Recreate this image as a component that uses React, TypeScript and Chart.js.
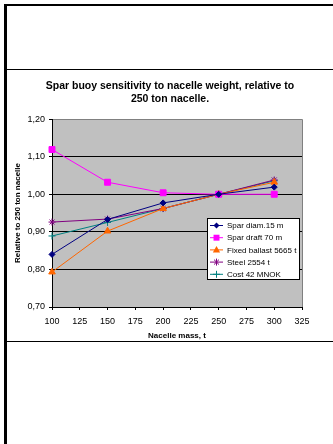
import React, { useEffect, useRef } from 'react';
import { Chart, registerables } from 'chart.js';

Chart.register(...registerables);

const nacelleMass = [100, 150, 200, 250, 300];
const sparDiam = [0.84, 0.933, 0.977, 1.0, 1.019];
const sparDraft = [1.119, 1.032, 1.004, 1.0, 1.0];
const fixedBallast = [0.793, 0.902, 0.962, 1.0, 1.032];
const steel = [0.926, 0.934, 0.962, 1.0, 1.038];
const cost = [0.889, 0.925, 0.962, 1.0, 1.036];

const seriesNames = ['Spar diam.15 m', 'Spar draft 70 m', 'Fixed ballast 5665 t', 'Steel 2554 t', 'Cost 42 MNOK'];
const seriesValues = [sparDiam, sparDraft, fixedBallast, steel, cost];
const seriesColors = ['#000080', '#ff00ff', '#ff6600', '#800080', '#008080'];
const seriesMarkers = ['rectRot', 'rect', 'triangle', 'star', 'cross'];
const markerRadius = [3, 4.2, 3.8, 3.5, 3.5];

const titleLines = ['Spar buoy sensitivity to nacelle weight, relative to', '250 ton nacelle.'];
const xTitle = 'Nacelle mass, t';
const yTitle = 'Relative to 250 ton nacelle';

const FONT = "'Liberation Sans', Arial, sans-serif";

function drawMarker(ctx: CanvasRenderingContext2D, kind: string, x: number, y: number, r: number, color: string) {
  ctx.save();
  ctx.fillStyle = color;
  ctx.strokeStyle = color;
  ctx.lineWidth = 1;
  ctx.beginPath();
  if (kind === 'rectRot') {
    ctx.moveTo(x, y - r);
    ctx.lineTo(x + r, y);
    ctx.lineTo(x, y + r);
    ctx.lineTo(x - r, y);
    ctx.closePath();
    ctx.fill();
  } else if (kind === 'rect') {
    const s = r * Math.SQRT1_2;
    ctx.rect(x - s, y - s, 2 * s, 2 * s);
    ctx.fill();
  } else if (kind === 'triangle') {
    ctx.moveTo(x, y - r);
    ctx.lineTo(x + r * 0.95, y + r * 0.7);
    ctx.lineTo(x - r * 0.95, y + r * 0.7);
    ctx.closePath();
    ctx.fill();
  } else if (kind === 'star') {
    const d = r * Math.SQRT1_2;
    ctx.moveTo(x - d, y - d);
    ctx.lineTo(x + d, y + d);
    ctx.moveTo(x + d, y - d);
    ctx.lineTo(x - d, y + d);
    ctx.moveTo(x, y - r);
    ctx.lineTo(x, y + r);
    ctx.stroke();
  } else {
    ctx.moveTo(x - r, y);
    ctx.lineTo(x + r, y);
    ctx.moveTo(x, y - r);
    ctx.lineTo(x, y + r);
    ctx.stroke();
  }
  ctx.restore();
}

const plotBgPlugin = {
  id: 'plotBg',
  beforeDraw(chart: any) {
    const { ctx, chartArea: ca } = chart;
    ctx.save();
    ctx.fillStyle = '#c0c0c0';
    ctx.fillRect(ca.left, ca.top, ca.right - ca.left, ca.bottom - ca.top);
    ctx.strokeStyle = '#808080';
    ctx.lineWidth = 1;
    ctx.beginPath();
    ctx.moveTo(ca.left, Math.round(ca.top) + 0.5);
    ctx.lineTo(Math.round(ca.right) + 0.5, Math.round(ca.top) + 0.5);
    ctx.lineTo(Math.round(ca.right) + 0.5, ca.bottom);
    ctx.stroke();
    ctx.restore();
  },
};

const legendPlugin = {
  id: 'boxLegend',
  afterDraw(chart: any) {
    const { ctx, chartArea: ca } = chart;
    const bx = Math.round(ca.left + 155);
    const by = Math.round(ca.top + 99);
    const bw = 92;
    const bh = 61;
    ctx.save();
    ctx.fillStyle = '#ffffff';
    ctx.fillRect(bx, by, bw, bh);
    ctx.strokeStyle = '#000000';
    ctx.lineWidth = 1;
    ctx.strokeRect(bx + 0.5, by + 0.5, bw, bh);
    ctx.font = `8px ${FONT}`;
    ctx.textBaseline = 'middle';
    ctx.textAlign = 'left';
    seriesNames.forEach((name, i) => {
      const y = by + 7.5 + i * 12.2;
      ctx.strokeStyle = seriesColors[i];
      ctx.lineWidth = 1;
      ctx.beginPath();
      ctx.moveTo(bx + 3, y);
      ctx.lineTo(bx + 16, y);
      ctx.stroke();
      drawMarker(ctx, seriesMarkers[i], bx + 9.5, y, markerRadius[i], seriesColors[i]);
      ctx.fillStyle = '#000000';
      ctx.fillText(name, bx + 20, y + 0.5);
    });
    ctx.restore();
  },
};

export default function App() {
  const canvasRef = useRef<HTMLCanvasElement | null>(null);

  useEffect(() => {
    const canvas = canvasRef.current;
    if (!canvas) return;
    Chart.defaults.color = '#000000';
    Chart.defaults.font.family = FONT;
    const chart = new Chart(canvas, {
      type: 'line',
      data: {
        datasets: seriesNames.map((name, i) => ({
          label: name,
          data: nacelleMass.map((m, j) => ({ x: m, y: seriesValues[i][j] })),
          borderColor: seriesColors[i],
          backgroundColor: seriesColors[i],
          pointBackgroundColor: seriesColors[i],
          pointBorderColor: seriesColors[i],
          pointStyle: seriesMarkers[i] as any,
          pointRadius: markerRadius[i],
          pointBorderWidth: 1,
          borderWidth: 1,
          tension: 0,
          fill: false,
          clip: false,
          yAxisID: 'y',
        })),
      },
      options: {
        animation: false,
        responsive: false,
        maintainAspectRatio: false,
        events: [],
        layout: { padding: { left: 0, right: 0, top: 0, bottom: 0 } },
        plugins: {
          legend: { display: false },
          tooltip: { enabled: false },
          title: {
            display: true,
            text: titleLines,
            color: '#000000',
            font: { family: FONT, size: 10.5, weight: 'bold', lineHeight: 1.3 },
            padding: { top: 9, bottom: 12.8 },
          },
        },
        scales: {
          x: {
            type: 'linear',
            min: 100,
            max: 325,
            ticks: { stepSize: 25, color: '#000000', font: { family: FONT, size: 9 }, padding: 6, maxRotation: 0, autoSkip: false },
            grid: { drawOnChartArea: false, drawTicks: true, tickLength: 3, tickColor: '#000000', color: '#000000' },
            border: { display: true, color: '#000000', width: 1 },
            title: {
              display: true,
              text: xTitle,
              color: '#000000',
              font: { family: FONT, size: 8, weight: 'bold', lineHeight: 1.2 },
              padding: { top: 2, bottom: 0 },
            },
            afterFit: (scale: any) => {
              scale.height = 34;
            },
          },
          y: {
            type: 'linear',
            position: 'left',
            min: 0.7,
            max: 1.2,
            ticks: {
              stepSize: 0.1,
              color: '#000000',
              font: { family: FONT, size: 9 },
              padding: 4,
              callback: (v: any) => Number(v).toFixed(2).replace('.', ','),
            },
            grid: {
              drawOnChartArea: true,
              drawTicks: true,
              tickLength: 3,
              tickColor: '#000000',
              color: (ctx: any) => {
                const v = ctx.tick ? ctx.tick.value : 0;
                return Math.abs(v - 1.2) < 1e-6 ? 'rgba(0,0,0,0)' : '#000000';
              },
            },
            border: { display: true, color: '#000000', width: 1 },
            title: {
              display: true,
              text: yTitle,
              color: '#000000',
              font: { family: FONT, size: 8, weight: 'bold', lineHeight: 1.2 },
              padding: { top: 6, bottom: 0 },
            },
            afterFit: (scale: any) => {
              scale.width = 45;
            },
          },
          yRightSpace: {
            type: 'linear',
            position: 'right',
            display: true,
            min: 0.7,
            max: 1.2,
            ticks: { display: false },
            grid: { display: false, drawTicks: false },
            border: { display: false },
            title: { display: false },
            afterFit: (scale: any) => {
              scale.width = 31;
            },
          },
        },
      },
      plugins: [plotBgPlugin, legendPlugin],
    } as any);
    return () => chart.destroy();
  }, []);

  const line = (style: React.CSSProperties) => (
    <div style={{ position: 'absolute', background: '#000000', ...style }} />
  );

  return (
    <div style={{ position: 'fixed', left: 0, top: 0, width: 333, height: 444, background: '#ffffff', overflow: 'hidden' }}>
      {line({ left: 4, top: 4, width: 329, height: 2 })}
      {line({ left: 4, top: 4, width: 3, height: 440 })}
      {line({ left: 7, top: 69, width: 326, height: 1 })}
      {line({ left: 7, top: 341, width: 326, height: 1 })}
      <canvas
        ref={canvasRef}
        width={326}
        height={271}
        style={{ position: 'absolute', left: 7, top: 70, width: 326, height: 271 }}
      />
    </div>
  );
}
